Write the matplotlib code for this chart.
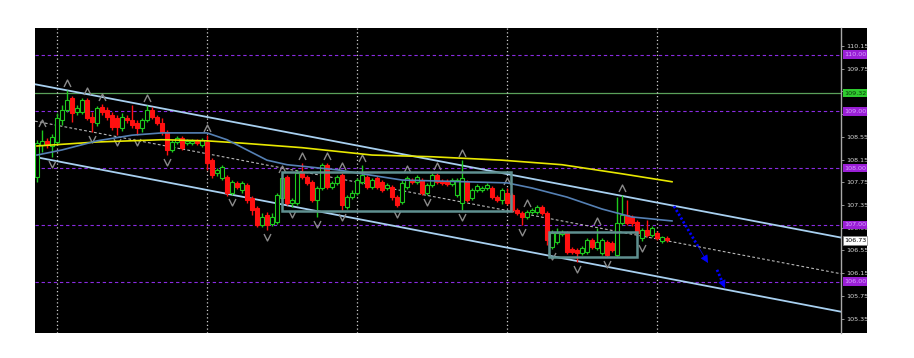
import numpy as np
import matplotlib
matplotlib.use('Agg')
import matplotlib.pyplot as plt
from matplotlib.patches import Rectangle
from matplotlib.path import Path

# OHLC values (one entry per bar)
opens = [107.84, 108.41, 108.48, 108.39, 108.46, 108.85, 109.02, 109.24, 108.99, 108.99,
         109.20, 108.90, 108.80, 109.08, 109.02, 108.94, 108.88, 108.71, 108.88, 108.85,
         108.80, 108.71, 108.85, 109.02, 108.90, 108.80, 108.64, 108.32, 108.46, 108.53,
         108.44, 108.44, 108.48, 108.41, 108.46, 108.14, 107.91, 107.83, 107.84, 107.56,
         107.74, 107.62, 107.70, 107.48, 107.30, 107.00, 107.18, 107.02, 107.05, 107.48,
         107.84, 107.39, 107.39, 107.91, 107.84, 107.76, 107.44, 107.65, 108.06, 107.67,
         107.74, 107.88, 107.32, 107.49, 107.56, 107.76, 107.84, 107.67, 107.83, 107.76,
         107.65, 107.67, 107.49, 107.40, 107.67, 107.79, 107.76, 107.79, 107.56, 107.70,
         107.88, 107.77, 107.77, 107.72, 107.53, 107.39, 107.76, 107.48, 107.62, 107.62,
         107.65, 107.65, 107.49, 107.44, 107.56, 107.53, 107.26, 107.21, 107.14, 107.23,
         107.23, 107.32, 107.21, 106.61, 106.70, 106.84, 106.86, 106.58, 106.56, 106.51,
         106.52, 106.74, 106.60, 106.51, 106.70, 106.68, 106.47, 107.04, 107.18, 107.14,
         107.05, 106.77, 106.91, 106.82, 106.86, 106.72, 106.77]
closes = [108.44, 108.48, 108.41, 108.55, 108.88, 109.02, 109.20, 108.97, 109.06, 109.20,
          108.88, 108.81, 109.06, 108.99, 108.90, 108.72, 108.72, 108.90, 108.85, 108.76,
          108.71, 108.85, 109.02, 108.90, 108.80, 108.64, 108.32, 108.46, 108.53, 108.36,
          108.48, 108.48, 108.44, 108.50, 108.09, 107.88, 107.97, 108.02, 107.56, 107.76,
          107.67, 107.74, 107.44, 107.26, 107.00, 107.14, 107.00, 107.14, 107.53, 107.83,
          107.39, 107.44, 107.91, 107.84, 107.74, 107.44, 107.65, 108.06, 107.67, 107.74,
          107.84, 107.35, 107.49, 107.56, 107.79, 107.88, 107.67, 107.79, 107.67, 107.62,
          107.70, 107.49, 107.35, 107.74, 107.83, 107.76, 107.84, 107.56, 107.70, 107.88,
          107.76, 107.74, 107.72, 107.79, 107.79, 107.83, 107.44, 107.62, 107.69, 107.65,
          107.70, 107.49, 107.44, 107.62, 107.39, 107.26, 107.21, 107.14, 107.23, 107.26,
          107.32, 107.21, 106.74, 106.86, 106.86, 106.88, 106.52, 106.52, 106.51, 106.60,
          106.74, 106.61, 106.70, 106.74, 106.47, 106.56, 107.04, 107.18, 107.04, 107.04,
          106.86, 106.91, 106.82, 106.95, 106.77, 106.79, 106.73]
highs = [108.50, 108.67, 108.53, 108.60, 108.97, 109.11, 109.38, 109.27, 109.11, 109.24,
         109.24, 108.99, 109.09, 109.13, 109.08, 108.99, 108.94, 108.97, 108.94, 109.11,
         108.85, 108.88, 109.11, 109.08, 108.94, 108.88, 108.67, 108.50, 108.57, 108.57,
         108.51, 108.51, 108.51, 108.53, 108.58, 108.18, 108.00, 108.06, 107.88, 107.79,
         107.77, 107.77, 107.74, 107.51, 107.33, 107.21, 107.23, 107.21, 107.56, 107.86,
         107.88, 107.48, 107.97, 108.09, 107.88, 107.79, 107.69, 108.09, 108.09, 107.77,
         107.88, 107.91, 107.53, 107.62, 107.83, 108.06, 107.88, 107.83, 107.86, 107.79,
         107.74, 107.70, 107.53, 107.79, 107.86, 107.83, 107.88, 107.83, 107.74, 107.91,
         107.91, 107.81, 107.81, 107.83, 107.83, 108.14, 107.79, 107.65, 107.72, 107.69,
         107.74, 107.69, 107.53, 107.65, 107.65, 107.56, 107.30, 107.25, 107.26, 107.30,
         107.35, 107.35, 107.25, 106.91, 106.95, 106.91, 106.89, 106.61, 106.60, 106.63,
         106.77, 106.77, 106.95, 106.77, 106.74, 106.72, 107.49, 107.53, 107.44, 107.18,
         107.09, 106.95, 107.09, 106.98, 106.89, 106.81, 106.81]
lows = [107.76, 108.29, 108.36, 108.20, 108.41, 108.76, 108.99, 108.81, 108.94, 108.95,
        108.85, 108.64, 108.74, 108.94, 108.85, 108.67, 108.58, 108.65, 108.80, 108.71,
        108.58, 108.64, 108.81, 108.87, 108.76, 108.58, 108.23, 108.29, 108.43, 108.32,
        108.41, 108.41, 108.41, 108.37, 107.97, 107.83, 107.86, 107.79, 107.51, 107.53,
        107.63, 107.56, 107.39, 107.18, 106.96, 106.96, 106.91, 106.98, 107.02, 107.44,
        107.35, 107.32, 107.35, 107.81, 107.70, 107.40, 107.14, 107.62, 107.63, 107.63,
        107.70, 107.26, 107.28, 107.46, 107.53, 107.72, 107.63, 107.63, 107.63, 107.58,
        107.62, 107.44, 107.32, 107.37, 107.63, 107.72, 107.72, 107.53, 107.53, 107.67,
        107.72, 107.70, 107.69, 107.69, 107.49, 107.26, 107.40, 107.44, 107.58, 107.58,
        107.62, 107.46, 107.40, 107.37, 107.35, 107.23, 107.18, 107.00, 107.11, 107.19,
        107.19, 107.18, 106.65, 106.58, 106.67, 106.81, 106.49, 106.49, 106.35, 106.47,
        106.49, 106.58, 106.56, 106.47, 106.44, 106.52, 106.44, 107.00, 107.00, 106.98,
        106.81, 106.72, 106.79, 106.79, 106.74, 106.68, 106.70]

# fractal bars
fractal_up = [1, 6, 10, 13, 22, 34, 49, 53, 58, 61, 65, 74, 80, 85, 94, 98, 112, 117]
fractal_dn = [3, 11, 16, 20, 26, 39, 46, 51, 56, 61, 72, 78, 85, 97, 103, 108, 114, 121]

# moving averages (bar, price)
slow_ma_bars = [0, 12, 25, 34, 41, 53, 67, 79, 93, 105, 117, 127]
slow_ma = [108.39, 108.46, 108.50, 108.48, 108.44, 108.36, 108.23, 108.20, 108.14, 108.06, 107.90, 107.76]
fast_ma_bars = [0, 5, 12, 19, 25, 34, 38, 42, 46, 50, 60, 73, 94, 99, 106, 113, 119, 127]
fast_ma = [108.23, 108.32, 108.48, 108.58, 108.62, 108.62, 108.50, 108.32, 108.14, 108.06,
           107.97, 107.79, 107.74, 107.65, 107.49, 107.28, 107.14, 107.07]

# regression channel anchors (bar, price)
chan_bars = [0, 126]
chan_upper = [109.47, 107.36]
chan_mid = [108.82, 106.72]
chan_lower = [108.19, 106.06]

# consolidation boxes: (bar start, bar end, price low, price high)
boxes = [(49.0, 94.8, 107.25, 107.94), (102.4, 120.0, 106.44, 106.88)]

# projected move arrows: (start bar, start price, tip bar, tip price)
arrows = [(127.4, 107.33, 134.2, 106.33), (136.0, 106.21, 137.6, 105.89)]

round_levels = [110.0, 109.0, 108.0, 107.0, 106.0]
green_level = 109.32
last_price = 106.73
price_ticks = [110.15, 109.75, 109.35, 108.95, 108.55, 108.15, 107.75, 107.35,
               106.95, 106.55, 106.15, 105.75, 105.35]
hidden_ticks = [109.35]
sep_bars = [4, 34, 64, 94, 124]

W, H = 914, 358
fig = plt.figure(figsize=(W / 100, H / 100), dpi=100)
fig.patch.set_facecolor('white')
fig.patches.append(Rectangle((35 / W, 25 / H), (867 - 35) / W, 305 / H,
                             transform=fig.transFigure, facecolor='black',
                             edgecolor='none', zorder=-10))
ax = fig.add_axes([35 / W, 25 / H, (841 - 35) / W, 305 / H])
ax.set_zorder(1)
ax.set_facecolor('black')
ax.set_xlim(-0.4, 160.8)
ax.set_ylim(105.097, 110.467)

for s in ['top', 'left', 'bottom']:
    ax.spines[s].set_visible(False)
ax.spines['right'].set_color('#a8a8a8')
ax.spines['right'].set_linewidth(1.0)
ax.set_xticks([])
ax.yaxis.tick_right()
ax.set_yticks(price_ticks)
ax.set_yticklabels(['' if t in hidden_ticks else '%.2f' % t for t in price_ticks])
ax.tick_params(axis='y', colors='#a8a8a8', labelcolor='#d8d8d8', length=2,
               width=0.6, pad=1.5, labelsize=4.6)

# grid-ish lines
for lv in round_levels:
    ax.axhline(lv, color='#8a2be2', lw=0.8, ls=(0, (3, 2.5)), zorder=1)
ax.axhline(green_level, color='#5aa05a', lw=0.9, zorder=1)
for b in sep_bars:
    ax.axvline(b, color='#d0d0d0', lw=0.9, ls=(0, (1, 2)), zorder=1)

# channel
ax.axline((chan_bars[0], chan_upper[0]), (chan_bars[1], chan_upper[1]), color='#a8d0f0', lw=1.3, zorder=2)
ax.axline((chan_bars[0], chan_lower[0]), (chan_bars[1], chan_lower[1]), color='#a8d0f0', lw=1.3, zorder=2)
ax.axline((chan_bars[0], chan_mid[0]), (chan_bars[1], chan_mid[1]), color='#b8b8b8', lw=0.8,
          ls=(0, (2.5, 2)), zorder=2)

# candles
green, red = '#1ec81e', '#ff1010'
for i in range(len(opens)):
    o, h, l, c = opens[i], highs[i], lows[i], closes[i]
    col = green if c >= o else red
    ax.vlines(i, l, h, color=col, lw=1.0, zorder=3)
    bot = min(o, c)
    hgt = max(abs(c - o), 0.015)
    ax.bar(i, hgt, bottom=bot, width=0.62, facecolor='black' if c >= o else red,
           edgecolor=col, lw=0.8, zorder=4)

# fractals (open chevrons)
up_mark = Path([(-1, -1), (0, 1), (1, -1)], [Path.MOVETO, Path.LINETO, Path.LINETO])
dn_mark = Path([(-1, 1), (0, -1), (1, 1)], [Path.MOVETO, Path.LINETO, Path.LINETO])
ax.plot(fractal_up, [highs[i] + 0.12 for i in fractal_up], ls='none', marker=up_mark,
        ms=5, mfc='none', mec='#8a8a8a', mew=1.0, zorder=5)
ax.plot(fractal_dn, [lows[i] - 0.12 for i in fractal_dn], ls='none', marker=dn_mark,
        ms=5, mfc='none', mec='#8a8a8a', mew=1.0, zorder=5)

# moving averages
ax.plot(slow_ma_bars, slow_ma, color='#e8e800', lw=1.2, zorder=5)
ax.plot(fast_ma_bars, fast_ma, color='#5580b4', lw=1.2, zorder=5)

# boxes
for x0, x1, y0, y1 in boxes:
    ax.add_patch(Rectangle((x0, y0), x1 - x0, y1 - y0, facecolor='none',
                           edgecolor='#5f9090', lw=1.8, zorder=6))

# arrows
for x0, y0, x1, y1 in arrows:
    fx = x0 + (x1 - x0) * 0.72
    fy = y0 + (y1 - y0) * 0.72
    ax.plot([x0, fx], [y0, fy], color='#0000ff', lw=2.0, ls=(0, (0.8, 0.8)), zorder=7)
    ax.annotate('', xy=(x1, y1), xytext=(fx, fy),
                arrowprops=dict(arrowstyle='-|>', color='#0000ff', lw=0.5,
                                mutation_scale=12, shrinkA=0, shrinkB=0), zorder=7)

# price labels on the scale
tr = ax.get_yaxis_transform()
def price_box(p, fc, tc, ec='none'):
    ax.add_patch(Rectangle((1.003, p - 0.075), 0.029, 0.15, transform=tr, facecolor=fc,
                           edgecolor=ec, lw=0.5, clip_on=False, zorder=10))
    ax.text(1.0175, p, '%.2f' % p, transform=tr, ha='center', va='center',
            fontsize=4.6, color=tc, clip_on=False, zorder=11)

for lv in round_levels:
    price_box(lv, '#9a1fd6', '#d8a0ff')
price_box(green_level, '#2fcc2f', '#0a3a0a')
price_box(last_price, 'white', 'black', ec='#808080')

fig.savefig('out.png', dpi=100, facecolor='white')
